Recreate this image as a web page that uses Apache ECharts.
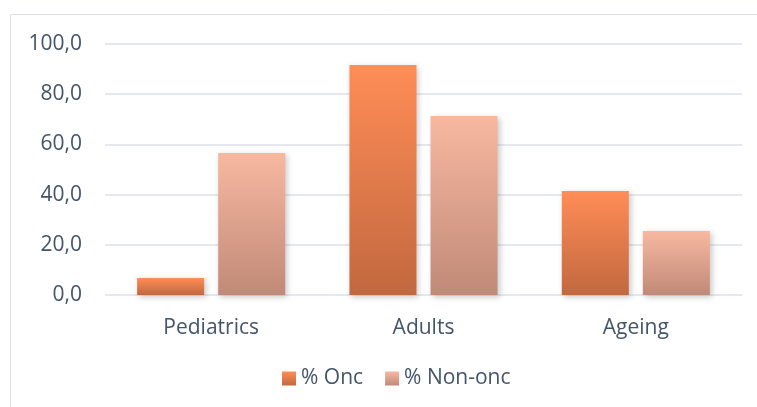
<!DOCTYPE html>
<html>
<head>
<meta charset="utf-8">
<script src="https://cdn.jsdelivr.net/npm/echarts@6/dist/echarts.min.js"></script>
<style>
html,body{margin:0;padding:0;background:#fff;}
#c{width:757px;height:407px;}
</style>
</head>
<body>
<div id="c"></div>
<script>
const categories = ['Pediatrics', 'Adults', 'Ageing'];
const onc = [6.8, 91.6, 41.4];
const nonOnc = [56.6, 71.3, 25.5];
const seriesNames = ['% Onc', '% Non-onc'];
const yTicks = [0, 20, 40, 60, 80, 100];

const FONT = '"Open Sans", sans-serif';
const TXT = '#44546a';

function grad(top, bottom) {
  return new echarts.graphic.LinearGradient(0, 0, 0, 1, [
    {offset: 0, color: top},
    {offset: 1, color: bottom}
  ]);
}

const chart = echarts.init(document.getElementById('c'), null, {renderer: 'canvas'});
chart.setOption({
  animation: false,
  backgroundColor: '#ffffff',
  textStyle: {fontFamily: FONT},
  graphic: [{
    type: 'rect',
    shape: {x: 10.5, y: 14.5, width: 900, height: 600},
    style: {fill: 'none', stroke: '#dcdfe4', lineWidth: 1},
    silent: true,
    z: -10
  }],
  grid: {left: 105, right: 15, top: 44, bottom: 112, containLabel: false},
  legend: {
    data: seriesNames,
    left: 282,
    top: 368,
    padding: 0,
    icon: 'rect',
    itemWidth: 14,
    itemHeight: 14,
    itemGap: 22,
    textStyle: {fontFamily: FONT, fontSize: 21, color: TXT}
  },
  xAxis: {
    type: 'category',
    data: categories,
    axisLine: {show: false},
    axisTick: {show: false},
    axisLabel: {fontFamily: FONT, fontSize: 21, color: TXT, margin: 23}
  },
  yAxis: {
    type: 'value',
    min: yTicks[0],
    max: yTicks[yTicks.length - 1],
    interval: yTicks[1] - yTicks[0],
    axisLine: {show: false},
    axisTick: {show: false},
    splitLine: {lineStyle: {color: '#dde2ea', width: 1.5}},
    axisLabel: {
      fontFamily: FONT, fontSize: 21, color: TXT, margin: 23,
      formatter: v => v.toFixed(1).replace('.', ',')
    }
  },
  series: [{
    name: seriesNames[0],
    type: 'bar',
    data: onc,
    barWidth: 67,
    barGap: '21%',
    itemStyle: {
      color: grad('#ff8d57', '#c2683f'),
      shadowColor: 'rgba(0,0,0,0.22)', shadowBlur: 6, shadowOffsetX: 2, shadowOffsetY: 2
    }
  }, {
    name: seriesNames[1],
    type: 'bar',
    data: nonOnc,
    barWidth: 67,
    barGap: '21%',
    itemStyle: {
      color: grad('#f8b8a0', '#c08a78'),
      shadowColor: 'rgba(0,0,0,0.22)', shadowBlur: 6, shadowOffsetX: 2, shadowOffsetY: 2
    }
  }]
});
</script>
</body>
</html>
